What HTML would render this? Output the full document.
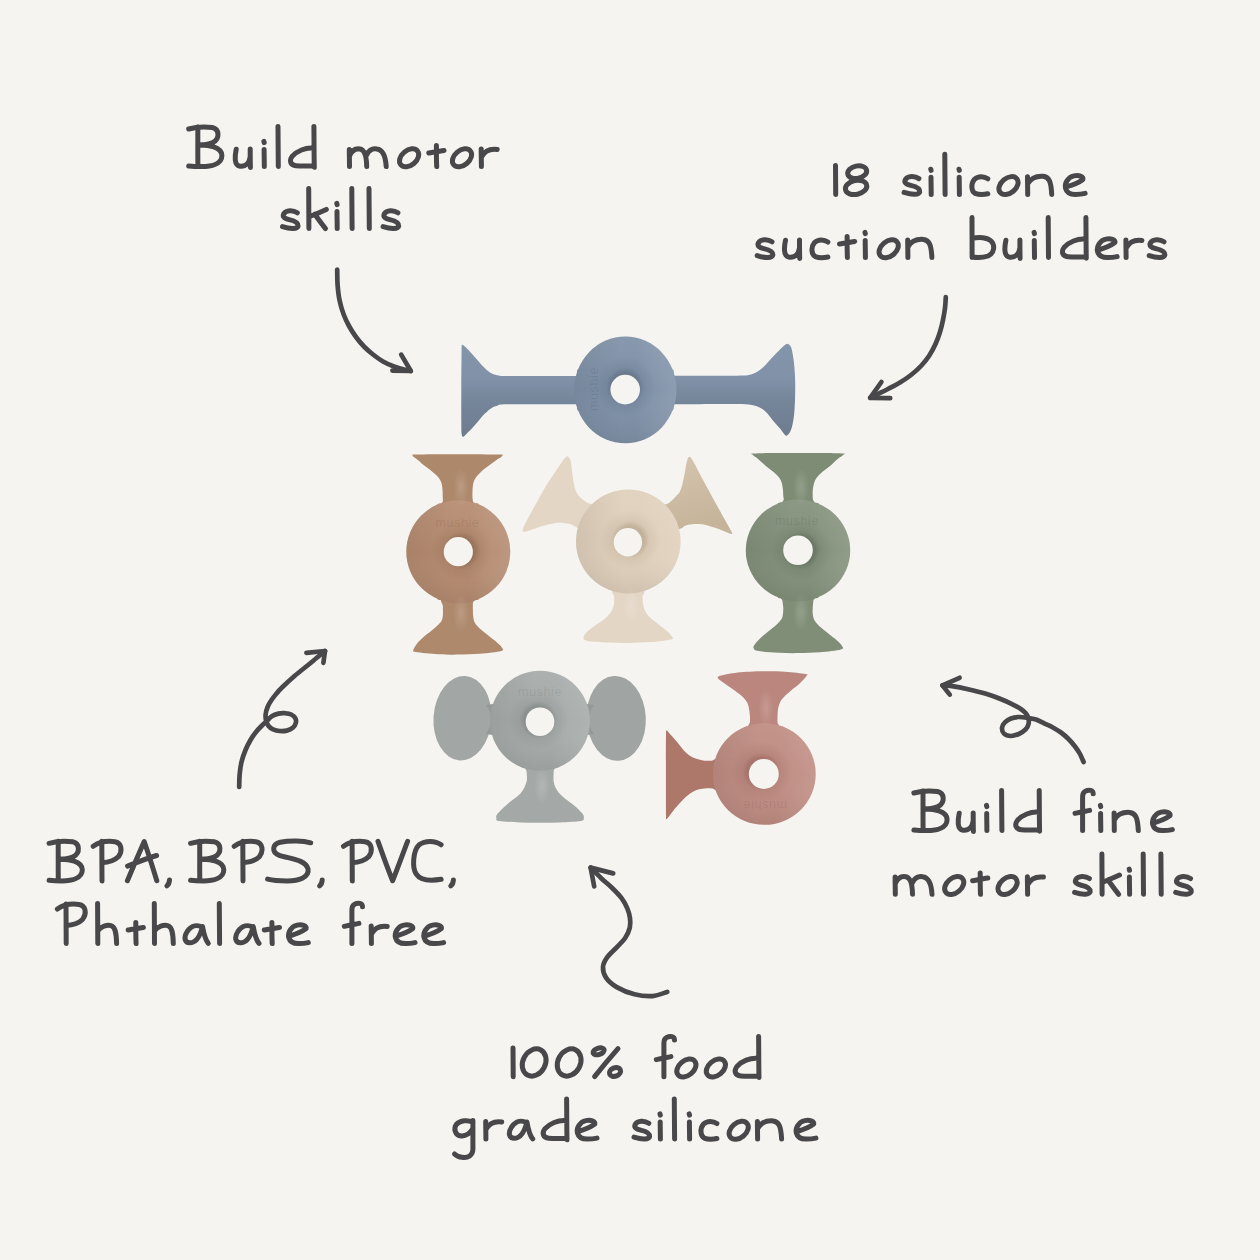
<!DOCTYPE html><html><head><meta charset="utf-8"><title>Suction builders</title><style>html,body{margin:0;padding:0;background:#f5f4f0;width:1260px;height:1260px;overflow:hidden}svg{display:block}body{font-family:"Liberation Sans",sans-serif}</style></head><body><svg width="1260" height="1260" viewBox="0 0 1260 1260"><rect width="1260" height="1260" fill="#f5f4f0"/><defs><radialGradient id="gb" cx="0.5" cy="0.5" r="0.5"><stop offset="0.45" stop-color="#3f4d60" stop-opacity="0.36"/><stop offset="0.62" stop-color="#3f4d60" stop-opacity="0.12"/><stop offset="1" stop-color="#3f4d60" stop-opacity="0"/></radialGradient><radialGradient id="gt" cx="0.5" cy="0.5" r="0.5"><stop offset="0.45" stop-color="#6a4a33" stop-opacity="0.36"/><stop offset="0.62" stop-color="#6a4a33" stop-opacity="0.12"/><stop offset="1" stop-color="#6a4a33" stop-opacity="0"/></radialGradient><radialGradient id="gc" cx="0.5" cy="0.5" r="0.5"><stop offset="0.45" stop-color="#8f7d62" stop-opacity="0.36"/><stop offset="0.62" stop-color="#8f7d62" stop-opacity="0.12"/><stop offset="1" stop-color="#8f7d62" stop-opacity="0"/></radialGradient><radialGradient id="gg" cx="0.5" cy="0.5" r="0.5"><stop offset="0.45" stop-color="#404d3c" stop-opacity="0.36"/><stop offset="0.62" stop-color="#404d3c" stop-opacity="0.12"/><stop offset="1" stop-color="#404d3c" stop-opacity="0"/></radialGradient><radialGradient id="gy" cx="0.5" cy="0.5" r="0.5"><stop offset="0.45" stop-color="#5d6362" stop-opacity="0.36"/><stop offset="0.62" stop-color="#5d6362" stop-opacity="0.12"/><stop offset="1" stop-color="#5d6362" stop-opacity="0"/></radialGradient><radialGradient id="gp" cx="0.5" cy="0.5" r="0.5"><stop offset="0.45" stop-color="#7d4b45" stop-opacity="0.36"/><stop offset="0.62" stop-color="#7d4b45" stop-opacity="0.12"/><stop offset="1" stop-color="#7d4b45" stop-opacity="0"/></radialGradient><linearGradient id="hshade" x1="0" y1="0" x2="1" y2="0"><stop offset="0" stop-color="#000000" stop-opacity="0.07"/><stop offset="0.45" stop-color="#000000" stop-opacity="0"/><stop offset="0.6" stop-color="#ffffff" stop-opacity="0"/><stop offset="1" stop-color="#ffffff" stop-opacity="0.10"/></linearGradient><linearGradient id="vshade" x1="0" y1="0" x2="0" y2="1"><stop offset="0" stop-color="#ffffff" stop-opacity="0.07"/><stop offset="0.5" stop-color="#ffffff" stop-opacity="0"/><stop offset="1" stop-color="#000000" stop-opacity="0.07"/></linearGradient><linearGradient id="lb" gradientUnits="userSpaceOnUse" x1="0" y1="343" x2="0" y2="437"><stop offset="0" stop-color="#8395ab"/><stop offset="0.38" stop-color="#8192a8"/><stop offset="0.6" stop-color="#76869b"/><stop offset="1" stop-color="#6d7b8e"/></linearGradient><linearGradient id="nt1" gradientUnits="userSpaceOnUse" x1="412" y1="0" x2="504" y2="0"><stop offset="0" stop-color="#ad886b"/><stop offset="0.36" stop-color="#ad886b"/><stop offset="0.55" stop-color="#bd997d"/><stop offset="0.72" stop-color="#ad886b"/><stop offset="1" stop-color="#ad886b"/></linearGradient><linearGradient id="nt2" gradientUnits="userSpaceOnUse" x1="412" y1="0" x2="504" y2="0"><stop offset="0" stop-color="#ae896c"/><stop offset="0.36" stop-color="#ae896c"/><stop offset="0.55" stop-color="#be9a7e"/><stop offset="0.72" stop-color="#ae896c"/><stop offset="1" stop-color="#ae896c"/></linearGradient><linearGradient id="ng1" gradientUnits="userSpaceOnUse" x1="752" y1="0" x2="844" y2="0"><stop offset="0" stop-color="#7e8c75"/><stop offset="0.36" stop-color="#7e8c75"/><stop offset="0.55" stop-color="#8d9d86"/><stop offset="0.72" stop-color="#7e8c75"/><stop offset="1" stop-color="#7e8c75"/></linearGradient><linearGradient id="ng2" gradientUnits="userSpaceOnUse" x1="752" y1="0" x2="844" y2="0"><stop offset="0" stop-color="#808e77"/><stop offset="0.36" stop-color="#808e77"/><stop offset="0.55" stop-color="#8fa088"/><stop offset="0.72" stop-color="#808e77"/><stop offset="1" stop-color="#808e77"/></linearGradient><linearGradient id="nc" gradientUnits="userSpaceOnUse" x1="583" y1="0" x2="673" y2="0"><stop offset="0" stop-color="#e2d5c4"/><stop offset="0.36" stop-color="#e2d5c4"/><stop offset="0.55" stop-color="#ece2d5"/><stop offset="0.72" stop-color="#e2d5c4"/><stop offset="1" stop-color="#e2d5c4"/></linearGradient><linearGradient id="ny" gradientUnits="userSpaceOnUse" x1="496" y1="0" x2="584" y2="0"><stop offset="0" stop-color="#a3a8a7"/><stop offset="0.36" stop-color="#a3a8a7"/><stop offset="0.55" stop-color="#b2b7b6"/><stop offset="0.72" stop-color="#a3a8a7"/><stop offset="1" stop-color="#a3a8a7"/></linearGradient><linearGradient id="np" gradientUnits="userSpaceOnUse" x1="717" y1="0" x2="808" y2="0"><stop offset="0" stop-color="#b9857c"/><stop offset="0.36" stop-color="#b9857c"/><stop offset="0.55" stop-color="#c6948b"/><stop offset="0.72" stop-color="#b9857c"/><stop offset="1" stop-color="#b9857c"/></linearGradient><linearGradient id="rarm" x1="0" y1="0" x2="0.3" y2="1"><stop offset="0" stop-color="#d6c5ae"/><stop offset="1" stop-color="#c5b39a"/></linearGradient><radialGradient id="hl" cx="0.5" cy="0.5" r="0.5"><stop offset="0" stop-color="#ffffff" stop-opacity="0.16"/><stop offset="1" stop-color="#ffffff" stop-opacity="0"/></radialGradient></defs><path d="M462.4,344.8 C463.4,345.0 465.5,347.0 467.5,349.0 C469.5,351.0 472.3,354.3 474.5,356.8 C476.7,359.3 478.6,361.6 480.6,363.8 C482.6,366.0 484.8,368.3 486.7,369.9 C488.6,371.5 489.9,372.5 491.9,373.4 C493.9,374.3 496.4,375.1 498.9,375.5 C501.4,375.9 496.8,375.9 507.0,376.0 C517.2,376.1 527.8,376.0 560.0,376.0 C592.2,376.0 671.7,375.9 700.0,375.8 C728.3,375.8 722.8,375.7 730.0,375.7 C737.2,375.7 739.5,375.8 743.1,375.6 C746.7,375.4 749.2,375.1 751.8,374.3 C754.4,373.5 756.6,372.2 758.8,370.8 C761.0,369.4 762.7,367.8 764.9,365.6 C767.1,363.4 769.6,360.2 771.9,357.7 C774.2,355.2 776.8,352.7 778.9,350.7 C781.0,348.7 782.8,346.7 784.3,345.6 C785.8,344.5 786.6,343.6 787.8,343.9 C788.9,344.2 790.2,344.7 791.2,347.6 C792.2,350.5 793.1,356.0 793.8,361.2 C794.4,366.4 794.9,372.9 795.1,378.7 C795.3,384.5 795.2,390.3 795.1,396.1 C795.0,401.9 794.7,408.5 794.2,413.6 C793.7,418.7 792.9,423.4 792.0,426.7 C791.1,430.0 790.1,432.1 789.0,433.6 C787.9,435.1 787.0,436.3 785.6,435.6 C784.2,434.9 782.7,431.7 780.7,429.3 C778.7,426.9 776.0,424.3 773.7,421.5 C771.4,418.7 769.0,415.0 766.7,412.7 C764.4,410.4 762.2,408.8 759.7,407.5 C757.2,406.2 755.3,405.5 751.8,404.9 C748.3,404.3 742.3,404.2 738.7,404.1 C735.1,404.0 736.5,404.1 730.0,404.1 C723.5,404.1 728.3,404.2 700.0,404.2 C671.7,404.2 592.2,404.3 560.0,404.3 C527.8,404.3 517.5,404.1 507.0,404.3 C496.5,404.5 499.9,405.0 497.2,405.7 C494.5,406.4 493.1,407.1 491.0,408.4 C488.9,409.7 487.1,411.4 484.9,413.6 C482.7,415.8 480.2,419.0 478.0,421.5 C475.8,424.0 473.7,426.5 471.8,428.5 C469.9,430.5 468.0,432.3 466.6,433.7 C465.2,435.1 464.0,436.8 463.2,436.8 C462.4,436.8 461.9,436.3 461.6,433.5 C461.3,430.7 461.4,427.2 461.3,420.0 C461.2,412.8 461.3,400.0 461.3,390.0 C461.3,380.0 461.4,367.0 461.5,360.0 C461.6,353.0 461.5,350.5 461.6,348.0 C461.8,345.5 461.4,344.6 462.4,344.8 Z" fill="url(#lb)"/><path d="M582.1,376.2 Q575.1,376.2 577.4,369.6 L625.3,389.9 Z" fill="#7c8da3"/><path d="M668.5,376.2 Q675.5,376.2 673.2,369.6 L625.3,389.9 Z" fill="#7c8da3"/><path d="M582.2,404.0 Q575.2,404.0 577.6,410.6 L625.3,389.9 Z" fill="#7c8da3"/><path d="M668.4,404.0 Q675.4,404.0 673.0,410.6 L625.3,389.9 Z" fill="#7c8da3"/><ellipse cx="625.3" cy="389.9" rx="51.2" ry="53.4" fill="#7f91a8"/><ellipse cx="625.3" cy="389.9" rx="51.2" ry="53.4" fill="url(#vshade)"/><ellipse cx="625.3" cy="389.9" rx="51.2" ry="53.4" fill="url(#hshade)"/><circle cx="625.2" cy="386.6" r="30.8" fill="url(#gb)"/><circle cx="625.2" cy="389.6" r="14.8" fill="#f5f4f0"/><path d="M443.2,506.0 C438.1,505.2 443.0,502.9 442.9,501.3 C442.8,499.7 442.8,498.2 442.7,496.3 C442.6,494.4 442.7,491.8 442.5,489.7 C442.3,487.6 442.1,485.5 441.7,483.8 C441.3,482.1 440.8,481.1 440.0,479.7 C439.2,478.3 438.4,477.2 436.7,475.5 C435.0,473.8 432.2,471.5 430.0,469.7 C427.8,467.9 425.4,466.4 423.3,464.7 C421.2,463.0 419.2,461.0 417.5,459.7 C415.8,458.4 414.0,457.4 413.2,456.6 C412.4,455.8 412.3,455.2 412.8,454.8 C413.3,454.4 408.5,454.5 416.0,454.4 C423.5,454.3 444.2,454.2 458.0,454.2 C471.8,454.2 491.6,454.4 499.0,454.5 C506.4,454.6 501.8,454.5 502.3,454.8 C502.8,455.1 502.7,455.6 501.8,456.4 C500.9,457.2 498.7,458.3 496.7,459.7 C494.7,461.1 492.2,463.0 490.0,464.7 C487.8,466.4 485.4,467.9 483.3,469.7 C481.2,471.5 479.0,473.7 477.5,475.5 C476.0,477.3 475.0,478.8 474.2,480.5 C473.4,482.2 473.2,483.7 472.9,485.5 C472.6,487.3 472.6,489.2 472.5,491.3 C472.4,493.4 472.4,496.3 472.5,498.0 C472.6,499.7 472.8,500.0 472.9,501.3 C473.0,502.6 478.1,505.2 473.2,506.0 C468.2,506.8 448.2,506.8 443.2,506.0 Z" fill="#ad886b"/><path d="M473.2,598.0 C478.1,598.8 472.9,600.9 472.9,603.0 C472.8,605.1 472.8,608.1 472.9,610.5 C473.0,612.9 472.9,615.1 473.3,617.2 C473.7,619.3 473.9,621.1 475.0,623.0 C476.1,624.9 477.8,626.7 480.0,628.8 C482.2,630.9 485.5,633.3 488.3,635.5 C491.1,637.7 494.4,640.2 496.7,642.2 C498.9,644.2 501.1,646.0 501.8,647.5 C502.6,649.0 504.8,650.0 501.2,651.0 C497.6,652.0 487.1,653.2 480.0,653.8 C472.9,654.4 465.2,654.5 458.3,654.6 C451.4,654.7 445.4,654.6 438.3,654.2 C431.2,653.8 419.9,652.8 415.8,652.0 C411.7,651.2 413.2,651.0 413.5,649.5 C413.8,648.0 415.9,645.0 417.5,643.0 C419.1,641.0 420.9,639.3 423.3,637.2 C425.7,635.1 429.2,632.6 431.7,630.5 C434.2,628.4 436.6,626.4 438.3,624.7 C440.0,623.0 440.9,622.2 441.7,620.5 C442.5,618.8 442.7,617.1 442.9,614.7 C443.1,612.3 442.8,609.1 442.9,606.3 C442.9,603.5 438.1,599.4 443.2,598.0 C448.2,596.6 468.2,597.2 473.2,598.0 Z" fill="#ae896c"/><path d="M442.9,508.0 Q442.9,502.0 437.3,504.1 L458.3,551.7 Z" fill="#ad886b"/><path d="M442.9,595.4 Q442.9,601.4 437.3,599.3 L458.3,551.7 Z" fill="#ae896c"/><path d="M473.0,507.8 Q473.0,501.8 478.6,503.8 L458.3,551.7 Z" fill="#ad886b"/><path d="M473.0,595.6 Q473.0,601.6 478.6,599.6 L458.3,551.7 Z" fill="#ae896c"/><ellipse cx="458.3" cy="551.7" rx="52" ry="51.5" fill="#b58b70"/><ellipse cx="458.3" cy="551.7" rx="52" ry="51.5" fill="url(#vshade)"/><ellipse cx="458.3" cy="551.7" rx="52" ry="51.5" fill="url(#hshade)"/><circle cx="461.3" cy="550.7" r="30.6" fill="url(#gt)"/><circle cx="458.3" cy="551.7" r="14.6" fill="#f5f4f0"/><path d="M567.9,456.4 C568.9,456.9 570.0,458.2 570.7,460.7 C571.4,463.2 571.6,467.8 572.1,471.4 C572.6,475.0 573.0,478.9 573.6,482.1 C574.2,485.3 574.8,488.3 575.7,490.7 C576.7,493.1 577.9,494.7 579.3,496.4 C580.7,498.1 582.6,499.5 584.3,500.7 C586.0,501.9 587.0,502.6 589.3,503.6 C591.6,504.7 596.2,504.3 598.0,507.0 C599.8,509.7 601.3,516.0 600.0,520.0 C598.7,524.0 593.6,529.6 590.0,531.0 C586.4,532.4 581.7,529.3 578.5,528.2 C575.3,527.1 573.2,525.2 570.7,524.3 C568.2,523.4 566.3,523.1 563.6,522.9 C560.9,522.7 557.6,522.7 554.3,523.2 C551.0,523.7 547.2,524.7 543.6,525.7 C540.0,526.7 535.9,528.3 532.9,529.3 C529.9,530.3 527.4,531.2 525.7,531.6 C524.0,532.0 523.1,532.4 522.8,531.6 C522.4,530.9 522.5,529.8 523.6,527.1 C524.7,524.5 527.2,519.7 529.3,515.7 C531.4,511.7 534.0,507.2 536.4,502.9 C538.8,498.6 541.2,494.1 543.6,490.0 C546.0,485.9 548.3,482.3 550.7,478.6 C553.1,474.9 555.5,471.3 557.9,467.9 C560.3,464.4 563.3,459.8 565.0,457.9 C566.7,456.0 566.9,455.9 567.9,456.4 Z" fill="#e4d6c5"/><path d="M689.6,456.8 C690.7,457.0 691.6,458.7 693.6,462.1 C695.6,465.5 698.8,472.2 701.4,477.1 C704.0,482.0 706.7,486.6 709.3,491.4 C711.9,496.2 714.5,500.9 717.1,505.7 C719.7,510.5 722.6,515.7 725.0,520.0 C727.4,524.3 730.3,529.3 731.4,531.6 C732.5,533.9 732.4,533.9 731.6,534.0 C730.8,534.1 728.5,533.1 726.4,532.3 C724.3,531.5 721.9,530.3 719.3,529.3 C716.7,528.3 713.7,527.2 710.7,526.4 C707.7,525.6 704.5,524.6 701.4,524.3 C698.3,523.9 694.8,524.1 692.1,524.3 C689.4,524.5 686.9,525.0 685.0,525.7 C683.1,526.4 683.5,527.9 680.7,528.6 C677.9,529.3 671.1,533.8 668.0,530.0 C664.9,526.2 662.3,510.3 662.0,506.0 C661.7,501.7 664.9,505.1 666.4,504.3 C667.9,503.5 669.2,502.7 670.7,501.4 C672.2,500.1 674.2,498.1 675.7,496.4 C677.2,494.7 678.8,493.8 680.0,491.4 C681.2,489.0 682.1,485.4 682.9,482.1 C683.7,478.8 684.3,475.0 685.0,471.4 C685.7,467.8 686.3,463.1 687.1,460.7 C687.9,458.3 688.5,456.6 689.6,456.8 Z" fill="url(#rarm)"/><path d="M614.2,590.0 C609.5,591.1 614.2,594.6 614.2,596.7 C614.2,598.8 614.4,600.6 614.2,602.5 C614.0,604.4 613.6,606.5 612.9,608.3 C612.2,610.1 611.5,611.5 610.0,613.3 C608.5,615.1 606.6,617.2 604.2,619.2 C601.8,621.2 598.4,623.1 595.8,625.0 C593.1,626.9 590.2,629.1 588.3,630.8 C586.4,632.5 585.0,634.1 584.2,635.4 C583.4,636.7 583.1,637.7 583.6,638.6 C584.1,639.5 583.4,640.2 587.5,640.9 C591.6,641.5 601.5,642.2 608.3,642.5 C615.1,642.8 621.3,643.0 628.3,642.9 C635.2,642.8 642.9,642.7 650.0,642.1 C657.1,641.5 667.1,640.3 670.8,639.4 C674.5,638.5 672.8,638.3 672.1,636.9 C671.4,635.5 669.0,632.9 666.7,630.8 C664.4,628.7 661.1,626.4 658.3,624.2 C655.5,622.0 652.2,619.7 650.0,617.5 C647.8,615.3 646.2,613.3 645.0,610.8 C643.8,608.3 643.3,604.9 642.9,602.5 C642.5,600.1 642.6,598.8 642.5,596.7 C642.4,594.6 647.2,591.1 642.5,590.0 C637.8,588.9 618.9,588.9 614.2,590.0 Z" fill="#e3d6c5"/><path d="M614.2,585.6 Q614.2,591.6 608.5,589.6 L628.3,541.5 Z" fill="#e3d6c5"/><path d="M642.5,585.5 Q642.5,591.5 648.2,589.6 L628.3,541.5 Z" fill="#e3d6c5"/><ellipse cx="628.3" cy="541.5" rx="52.3" ry="52" fill="#e0d0bc"/><ellipse cx="628.3" cy="541.5" rx="52.3" ry="52" fill="url(#vshade)"/><ellipse cx="628.3" cy="541.5" rx="52.3" ry="52" fill="url(#hshade)"/><circle cx="630.4" cy="539.7" r="30.2" fill="url(#gc)"/><circle cx="627.9" cy="542.2" r="14.2" fill="#f5f4f0"/><path d="M783.8,506.0 C778.9,504.9 783.9,501.0 783.8,499.3 C783.7,497.6 783.4,497.7 783.3,496.0 C783.1,494.3 783.2,491.5 782.9,489.3 C782.6,487.1 782.3,484.6 781.7,482.7 C781.1,480.8 780.6,479.5 779.2,477.7 C777.8,475.9 775.5,473.8 773.3,471.8 C771.1,469.9 768.4,468.2 765.8,466.0 C763.2,463.8 759.6,460.3 757.5,458.5 C755.4,456.7 753.5,455.9 753.0,455.0 C752.5,454.1 747.0,453.7 754.5,453.4 C762.0,453.1 783.5,453.1 798.0,453.1 C812.5,453.1 834.0,453.1 841.5,453.4 C849.0,453.7 843.5,454.1 843.0,455.0 C842.5,455.9 840.5,456.7 838.3,458.5 C836.1,460.3 832.6,463.8 830.0,466.0 C827.4,468.2 824.7,469.9 822.5,471.8 C820.3,473.8 818.1,475.9 816.7,477.7 C815.3,479.5 814.8,480.8 814.2,482.7 C813.6,484.6 813.1,487.1 812.9,489.3 C812.6,491.5 812.7,494.3 812.7,496.0 C812.7,497.7 812.9,497.6 812.9,499.3 C812.9,501.0 817.8,504.9 812.9,506.0 C808.0,507.1 788.6,507.1 783.8,506.0 Z" fill="#7e8c75"/><path d="M813.3,596.0 C818.4,596.8 813.4,598.9 813.3,601.0 C813.2,603.1 812.8,606.1 812.7,608.5 C812.6,610.9 812.5,613.1 812.9,615.2 C813.3,617.3 813.8,619.1 815.0,621.0 C816.2,622.9 817.8,624.7 820.0,626.8 C822.2,628.9 825.5,631.3 828.3,633.5 C831.1,635.7 834.4,638.1 836.7,640.2 C839.0,642.3 841.3,644.5 842.0,646.0 C842.7,647.5 844.5,648.5 840.8,649.5 C837.1,650.5 827.1,651.7 820.0,652.3 C812.9,652.9 805.2,653.0 798.3,653.1 C791.3,653.2 785.1,653.1 778.3,652.7 C771.5,652.3 761.6,651.6 757.5,650.8 C753.4,650.0 754.1,648.9 753.6,648.0 C753.1,647.1 753.4,646.5 754.2,645.2 C755.0,643.9 756.4,642.2 758.3,640.2 C760.2,638.2 763.1,635.7 765.8,633.5 C768.4,631.3 771.8,628.9 774.2,626.8 C776.6,624.7 778.6,622.7 780.0,621.0 C781.4,619.3 782.0,618.9 782.5,616.8 C783.0,614.7 783.3,611.1 783.3,608.5 C783.3,605.9 782.6,603.1 782.5,601.0 C782.4,598.9 777.4,596.8 782.5,596.0 C787.6,595.2 808.2,595.2 813.3,596.0 Z" fill="#808e77"/><path d="M783.5,507.0 Q783.5,501.0 777.9,503.0 L798.0,550.4 Z" fill="#7e8c75"/><path d="M783.5,593.8 Q783.5,599.8 777.9,597.8 L798.0,550.4 Z" fill="#808e77"/><path d="M813.0,507.1 Q813.0,501.1 818.6,503.2 L798.0,550.4 Z" fill="#7e8c75"/><path d="M813.0,593.7 Q813.0,599.7 818.6,597.6 L798.0,550.4 Z" fill="#808e77"/><ellipse cx="798" cy="550.4" rx="52.2" ry="50.8" fill="#83917b"/><ellipse cx="798" cy="550.4" rx="52.2" ry="50.8" fill="url(#vshade)"/><ellipse cx="798" cy="550.4" rx="52.2" ry="50.8" fill="url(#hshade)"/><circle cx="801.0" cy="550.2" r="30.8" fill="url(#gg)"/><circle cx="798" cy="550.2" r="14.8" fill="#f5f4f0"/><ellipse cx="462.5" cy="718.2" rx="29" ry="42.3" transform="rotate(4 462.5 718.2)" fill="#a2a7a6"/><ellipse cx="616.2" cy="718.4" rx="29.6" ry="42.5" transform="rotate(-3 616.2 718.4)" fill="#a0a5a4"/><path d="M486,705 Q496,719 486,734 L500,736 L500,703 Z" fill="#959a99"/><path d="M594,705 Q584,719 594,734 L580,736 L580,703 Z" fill="#959a99"/><path d="M526.6,765.0 C522.1,766.2 526.6,769.2 526.6,772.0 C526.6,774.8 527.6,777.9 526.6,781.5 C525.6,785.1 523.8,789.8 520.5,793.6 C517.2,797.4 510.8,801.0 507.0,804.4 C503.2,807.8 499.3,811.5 497.5,813.8 C495.7,816.1 496.1,816.8 496.4,818.0 C496.6,819.2 495.1,820.3 499.0,821.0 C502.9,821.7 513.2,822.1 520.0,822.4 C526.8,822.7 533.3,822.7 540.0,822.7 C546.7,822.7 553.2,822.7 560.0,822.4 C566.8,822.1 577.0,821.7 581.0,821.0 C585.0,820.3 583.5,819.2 583.8,818.0 C584.1,816.8 584.1,815.8 582.6,813.8 C581.1,811.8 578.1,808.8 574.5,805.7 C570.9,802.6 564.4,798.6 561.0,795.0 C557.6,791.4 555.4,788.0 554.2,784.2 C553.0,780.4 553.7,775.2 553.6,772.0 C553.5,768.8 558.1,766.2 553.6,765.0 C549.1,763.8 531.1,763.8 526.6,765.0 Z" fill="#a4a9a8"/><path d="M526.6,763.0 Q526.6,769.0 520.9,767.0 L540.0,720.8 Z" fill="#a4a9a8"/><path d="M553.8,762.9 Q553.8,768.9 559.5,766.9 L540.0,720.8 Z" fill="#a4a9a8"/><ellipse cx="540" cy="720.8" rx="50" ry="50" fill="#a6abaa"/><ellipse cx="540" cy="720.8" rx="50" ry="50" fill="url(#vshade)"/><ellipse cx="540" cy="720.8" rx="50" ry="50" fill="url(#hshade)"/><circle cx="538.0" cy="719.7" r="30.3" fill="url(#gy)"/><circle cx="540" cy="721.7" r="14.3" fill="#f5f4f0"/><path d="M750.2,728.0 C745.6,727.0 750.0,723.6 750.0,721.7 C750.0,719.8 750.1,718.7 750.0,716.7 C749.9,714.8 749.6,712.2 749.2,710.0 C748.8,707.8 748.5,705.4 747.5,703.3 C746.5,701.2 745.4,699.6 743.3,697.5 C741.2,695.4 737.8,692.9 735.0,690.8 C732.2,688.7 729.3,686.9 726.7,685.0 C724.1,683.1 720.7,680.9 719.2,679.6 C717.7,678.3 717.5,677.9 717.8,677.2 C718.1,676.5 718.1,676.1 721.0,675.4 C723.9,674.7 728.5,673.6 735.0,672.9 C741.5,672.2 751.7,671.5 760.0,671.3 C768.3,671.1 777.4,671.2 785.0,671.7 C792.6,672.2 801.9,673.3 805.5,674.0 C809.1,674.7 807.5,674.2 806.6,675.8 C805.7,677.3 802.5,680.9 800.0,683.3 C797.5,685.7 794.3,687.8 791.7,690.0 C789.1,692.2 786.2,694.6 784.2,696.7 C782.2,698.8 781.0,700.3 780.0,702.5 C779.0,704.7 778.3,707.6 777.9,710.0 C777.5,712.4 777.6,714.6 777.5,716.7 C777.4,718.8 777.5,720.6 777.5,722.5 C777.5,724.4 782.0,727.1 777.5,728.0 C773.0,728.9 754.8,729.0 750.2,728.0 Z" fill="#ba867d"/><path d="M666.8,730.4 C667.6,730.4 669.3,733.3 671.1,735.3 C672.9,737.3 675.4,740.0 677.5,742.5 C679.6,745.0 681.7,748.1 683.8,750.4 C685.9,752.6 688.0,754.5 690.2,756.0 C692.5,757.5 694.9,758.3 697.3,759.1 C699.7,759.9 702.0,760.4 704.4,760.7 C706.8,761.0 709.0,760.8 711.6,760.7 C714.2,760.6 718.6,755.1 720.0,760.0 C721.4,764.9 721.3,785.2 720.0,790.0 C718.7,794.8 715.0,788.8 712.4,788.5 C709.8,788.2 707.0,788.2 704.4,788.5 C701.8,788.8 699.0,789.2 696.5,790.1 C694.0,791.0 691.8,792.3 689.4,794.0 C687.0,795.7 684.5,798.1 682.2,800.4 C680.0,802.6 677.9,805.1 675.9,807.5 C673.9,809.9 671.8,812.8 670.3,814.7 C668.8,816.6 667.3,818.8 666.6,819.0 C665.9,819.2 666.1,820.8 666.0,816.0 C665.9,811.2 665.9,799.3 665.9,790.0 C665.9,780.7 665.9,769.2 665.9,760.0 C665.9,750.8 665.9,739.9 666.0,735.0 C666.1,730.1 665.9,730.4 666.8,730.4 Z" fill="#ad786a"/><path d="M750.0,731.0 Q750.0,725.0 744.4,727.1 L764.3,774.0 Z" fill="#ba867d"/><path d="M777.5,730.7 Q777.5,724.7 783.2,726.6 L764.3,774.0 Z" fill="#ba867d"/><path d="M721.1,760.6 Q715.1,760.6 717.0,754.9 L764.3,774.0 Z" fill="#ad786a"/><path d="M721.4,788.5 Q715.4,788.5 717.4,794.1 L764.3,774.0 Z" fill="#ad786a"/><ellipse cx="764.3" cy="774" rx="51.4" ry="50.8" fill="#bf8c82"/><ellipse cx="764.3" cy="774" rx="51.4" ry="50.8" fill="url(#vshade)"/><ellipse cx="764.3" cy="774" rx="51.4" ry="50.8" fill="url(#hshade)"/><circle cx="761.3" cy="771.5" r="31.0" fill="url(#gp)"/><circle cx="763.8" cy="774" r="15" fill="#f5f4f0"/><text x="457.5" y="527" text-anchor="middle" font-family="Liberation Sans, sans-serif" font-size="12.5" letter-spacing="0.6" fill="#6a4a33" fill-opacity="0.17">mushie</text><text x="797" y="525" text-anchor="middle" font-family="Liberation Sans, sans-serif" font-size="12.5" letter-spacing="0.6" fill="#404d3c" fill-opacity="0.17">mushie</text><text x="540" y="696" text-anchor="middle" font-family="Liberation Sans, sans-serif" font-size="12.5" letter-spacing="0.6" fill="#5d6362" fill-opacity="0.17">mushie</text><text x="765" y="801" text-anchor="middle" font-family="Liberation Sans, sans-serif" font-size="12.5" letter-spacing="0.6" fill="#7d4b45" fill-opacity="0.17" transform="rotate(180 765 801)">mushie</text><text x="598" y="389" text-anchor="middle" font-family="Liberation Sans, sans-serif" font-size="12.5" letter-spacing="0.6" fill="#3f4d60" fill-opacity="0.17" transform="rotate(-90 598 389)">mushie</text><ellipse cx="461" cy="487" rx="8" ry="19" fill="url(#hl)"/><ellipse cx="461" cy="613" rx="8" ry="19" fill="url(#hl)"/><ellipse cx="801" cy="487" rx="8" ry="19" fill="url(#hl)"/><ellipse cx="801" cy="612" rx="8" ry="19" fill="url(#hl)"/><ellipse cx="631" cy="606" rx="8" ry="19" fill="url(#hl)"/><ellipse cx="542" cy="786" rx="8" ry="19" fill="url(#hl)"/><ellipse cx="766" cy="708" rx="8" ry="19" fill="url(#hl)"/><g fill="none" stroke="#48484a" stroke-width="4.7" stroke-linecap="round" stroke-linejoin="round"><path d="M337.2,269.5 C337.3,272.1 337.2,279.9 337.6,285.0 C338.0,290.1 338.5,295.2 339.5,300.0 C340.5,304.8 341.9,309.7 343.5,314.0 C345.1,318.3 346.9,322.2 349.0,326.0 C351.1,329.8 353.5,333.6 356.0,337.0 C358.5,340.4 361.2,343.6 364.0,346.5 C366.8,349.4 369.8,352.0 373.0,354.5 C376.2,357.0 379.5,359.5 383.0,361.5 C386.5,363.5 390.5,365.2 394.0,366.5 C397.5,367.8 401.2,368.8 404.0,369.5 C406.8,370.2 409.7,370.8 410.8,371.0"/><path d="M401.2,354.6 L410.8,371 L392.4,370.6"/><path d="M945.8,297.0 C945.7,298.8 945.5,304.2 945.0,308.0 C944.5,311.8 943.8,316.0 943.0,320.0 C942.2,324.0 941.2,328.0 940.0,332.0 C938.8,336.0 937.3,340.0 935.5,344.0 C933.7,348.0 931.4,352.3 929.0,356.0 C926.6,359.7 924.0,362.8 921.0,366.0 C918.0,369.2 914.5,372.2 911.0,375.0 C907.5,377.8 903.8,380.2 900.0,382.5 C896.2,384.8 891.8,387.0 888.0,389.0 C884.2,391.0 880.0,393.0 877.0,394.5 C874.0,396.0 871.3,397.2 870.2,397.8"/><path d="M881.4,382.0 L870.2,397.8 L890.2,398.2"/><path d="M239.2,787.0 C239.3,785.0 239.2,779.2 239.6,775.0 C240.0,770.8 240.5,766.2 241.5,762.0 C242.5,757.8 244.0,753.7 245.5,750.0 C247.0,746.3 248.8,743.0 250.5,740.0 C252.2,737.0 254.1,734.4 256.0,732.0 C257.9,729.6 260.2,727.3 262.0,725.5 C263.8,723.7 264.9,722.8 266.5,721.3 C268.1,719.8 269.8,717.5 271.8,716.2 C273.8,714.9 276.2,714.1 278.4,713.6 C280.6,713.1 282.8,713.1 284.9,713.2 C287.0,713.4 289.4,713.6 291.2,714.5 C292.9,715.4 294.6,716.9 295.4,718.3 C296.2,719.7 296.2,721.4 295.8,723.0 C295.4,724.6 294.3,726.5 292.8,727.8 C291.3,729.1 289.0,730.1 286.8,730.6 C284.6,731.1 282.0,731.2 279.7,731.0 C277.4,730.8 274.9,730.1 273.0,729.3 C271.1,728.5 269.7,727.4 268.6,726.0 C267.5,724.6 266.7,723.1 266.2,721.2 C265.7,719.3 265.4,717.0 265.6,714.6 C265.8,712.2 266.6,709.4 267.6,707.0 C268.6,704.6 270.0,702.2 271.5,700.0 C273.0,697.8 274.8,695.6 276.5,693.5 C278.2,691.4 279.0,690.4 282.0,687.5 C285.0,684.6 290.2,679.7 294.5,676.0 C298.8,672.3 303.8,668.5 307.5,665.5 C311.2,662.5 313.6,660.4 316.5,658.0 C319.4,655.6 323.6,652.2 325.0,651.0"/><path d="M306.4,652.8 L325,651 L323.4,662.8"/><path d="M1083.6,762.0 C1083.0,760.7 1081.4,756.6 1080.0,754.0 C1078.6,751.4 1076.9,749.0 1075.0,746.5 C1073.1,744.0 1070.8,741.3 1068.5,739.0 C1066.2,736.7 1063.7,734.5 1061.0,732.5 C1058.3,730.5 1055.2,728.8 1052.5,727.3 C1049.8,725.8 1047.3,724.9 1044.6,723.6 C1041.8,722.3 1038.7,720.5 1036.0,719.6 C1033.3,718.7 1031.4,718.4 1028.5,718.0 C1025.6,717.6 1021.7,716.9 1018.8,717.0 C1015.9,717.1 1013.2,717.6 1010.9,718.5 C1008.6,719.4 1006.4,720.8 1004.9,722.3 C1003.4,723.8 1002.1,725.9 1002.0,727.8 C1001.9,729.7 1002.5,732.2 1004.0,733.6 C1005.5,735.0 1008.4,735.9 1010.9,736.0 C1013.4,736.1 1016.3,735.1 1018.8,734.0 C1021.2,732.9 1024.0,731.1 1025.6,729.4 C1027.2,727.7 1028.2,725.8 1028.6,723.8 C1029.0,721.8 1028.7,719.3 1028.2,717.5 C1027.7,715.7 1027.0,714.6 1025.8,713.2 C1024.6,711.8 1023.2,710.6 1020.8,709.0 C1018.4,707.4 1015.0,705.5 1011.5,703.8 C1008.0,702.1 1004.2,700.5 1000.0,698.8 C995.8,697.1 991.3,695.4 986.0,693.8 C980.7,692.2 973.7,690.5 968.0,689.2 C962.3,687.9 956.3,686.8 952.0,686.2 C947.7,685.6 944.0,685.5 942.4,685.4"/><path d="M959.6,677.8 L942.4,685.4 L949.8,694.6"/><path d="M667.3,991.9 C664.8,992.6 657.9,995.7 652.4,996.1 C646.9,996.5 640.5,995.8 634.5,994.3 C628.5,992.8 621.5,989.9 616.7,987.1 C612.0,984.3 608.3,981.0 606.0,977.6 C603.7,974.2 602.8,970.3 603.0,966.9 C603.2,963.5 604.8,960.7 607.1,957.4 C609.4,954.1 613.7,950.5 616.7,947.3 C619.7,944.1 622.8,941.6 625.0,938.3 C627.2,935.0 629.0,931.0 629.8,927.6 C630.6,924.2 630.4,921.3 630.0,918.1 C629.6,914.9 628.8,912.0 627.4,908.6 C626.0,905.2 624.0,901.4 621.4,897.9 C618.8,894.4 615.3,891.0 611.9,887.7 C608.5,884.4 604.8,881.6 601.2,878.2 C597.7,874.9 592.4,869.4 590.6,867.6"/><path d="M613.2,873.4 L590.6,867.6 L594.2,886.4"/></g><g fill="none" stroke="#48484a" stroke-width="5.0" stroke-linecap="round" stroke-linejoin="round"><path transform="translate(186.3,169.0)" d="M11.5,-42 C11.6,-30 11.4,-15 11.6,-3.4 M2.4,-40 C8,-41.6 18,-42.6 26,-41.5 C33,-40 34,-30.5 26.5,-26.5 C21,-24 15,-23.8 11.6,-23.8 M11.6,-24 C22,-24.6 35.6,-22 35.6,-13.5 C35.6,-5 25,-2.4 15,-2.4 C10,-2.4 6,-2.6 2.4,-3"/><path transform="translate(232.2,169.0)" d="M4,-19.8 C2.6,-13 1.6,-3.6 8,-2.8 C13.5,-2.2 17.2,-6.5 18,-12.5 M18,-20 C18,-14 18,-8 18.2,-1.6"/><path transform="translate(261.4,169.0)" d="M2.7,-19.6 C2.7,-14 2.9,-8 2.9,-2.4 M2.5,-27.6 L2.8,-26.4"/><path transform="translate(275.4,169.0)" d="M2.6,-42.6 C2.6,-30 2.9,-14 2.9,-2.4"/><path transform="translate(287.5,169.0)" d="M26.4,-42.6 C26.6,-28 26.5,-12 26.8,-1.8 M26.4,-20.8 C18,-21.8 9,-17.8 4.6,-12.6 C1.4,-8.2 3,-3.8 8.5,-3.3 C14,-2.8 21,-3 26.6,-3.2"/><path transform="translate(346.9,169.0)" d="M2.4,-19.6 C2.4,-14 2.6,-8 2.6,-2.4 M2.6,-13 C5,-19 9,-20.6 13,-20 C17,-19.4 19.6,-15 19.8,-2.4 M19.8,-14 C22,-19 26,-20.6 30,-20 C35,-19.4 38.6,-14 39.3,-2.4"/><path transform="translate(397.1,169.0)" d="M3.73,-4.26 A10.8,7.2 -40 1 0 20.27,-18.14 A10.8,7.2 -40 1 0 3.73,-4.26 Z"/><path transform="translate(426.4,169.0)" d="M10,-23.6 C10,-15 10,-8 10.3,-2.4 M2.4,-16 C8,-17 13,-18 17.6,-18.6"/><path transform="translate(450.0,169.0)" d="M3.73,-4.26 A10.8,7.2 -40 1 0 20.27,-18.14 A10.8,7.2 -40 1 0 3.73,-4.26 Z"/><path transform="translate(478.6,169.0)" d="M2.6,-20 C2.6,-14 2.8,-8 2.8,-2.4 M2.8,-12 C6,-18 11,-20.6 18.6,-19.6"/><path transform="translate(280.1,231.0)" d="M17.2,-18.2 C13,-21.2 6,-21 3.6,-17.2 C2,-14 5,-12.4 9,-11.4 C15,-10 18.4,-8 18,-5 C17.2,-2 11,-1.6 2.4,-4.4"/><path transform="translate(305.7,231.0)" d="M3,-42.6 C3,-30 3.2,-14 3.2,-2.4 M20.6,-21.6 C15,-19 9,-16.5 4,-14.5 M9,-16.8 C12.5,-12 16,-7 19.8,-2.4"/><path transform="translate(334.3,231.0)" d="M2.7,-19.6 C2.7,-14 2.9,-8 2.9,-2.4 M2.5,-27.6 L2.8,-26.4"/><path transform="translate(349.2,231.0)" d="M2.6,-42.6 C2.6,-30 2.9,-14 2.9,-2.4"/><path transform="translate(366.4,231.0)" d="M2.6,-42.6 C2.6,-30 2.9,-14 2.9,-2.4"/><path transform="translate(380.7,231.0)" d="M17.2,-18.2 C13,-21.2 6,-21 3.6,-17.2 C2,-14 5,-12.4 9,-11.4 C15,-10 18.4,-8 18,-5 C17.2,-2 11,-1.6 2.4,-4.4"/><path transform="translate(833.1,196.8)" d="M2.4,-31.2 C2.4,-22 2.6,-12 2.6,-2.4"/><path transform="translate(842.8,196.8)" d="M5.01,-22.60 A9.6,6.2 -12 1 0 23.79,-26.60 A9.6,6.2 -12 1 0 5.01,-22.60 Z M2.74,-7.15 A10.8,6.8 -12 1 0 23.86,-11.65 A10.8,6.8 -12 1 0 2.74,-7.15 Z"/><path transform="translate(901.7,196.8)" d="M17.2,-18.2 C13,-21.2 6,-21 3.6,-17.2 C2,-14 5,-12.4 9,-11.4 C15,-10 18.4,-8 18,-5 C17.2,-2 11,-1.6 2.4,-4.4"/><path transform="translate(928.3,196.8)" d="M2.7,-19.6 C2.7,-14 2.9,-8 2.9,-2.4 M2.5,-27.6 L2.8,-26.4"/><path transform="translate(942.2,196.8)" d="M2.6,-42.6 C2.6,-30 2.9,-14 2.9,-2.4"/><path transform="translate(956.5,196.8)" d="M2.7,-19.6 C2.7,-14 2.9,-8 2.9,-2.4 M2.5,-27.6 L2.8,-26.4"/><path transform="translate(969.2,196.8)" d="M18.6,-18 C15,-20.6 9,-21.2 5,-17.2 C1.5,-13 2,-5.4 6,-3.4 C10,-1.8 15,-2.2 18.6,-3"/><path transform="translate(996.5,196.8)" d="M3.73,-4.26 A10.8,7.2 -40 1 0 20.27,-18.14 A10.8,7.2 -40 1 0 3.73,-4.26 Z"/><path transform="translate(1025.1,196.8)" d="M2.4,-20 C2.4,-14 2.6,-8 2.6,-2.4 M2.6,-13 C6,-19 12,-21 18,-20.6 C24,-20 26,-15 26.6,-2.4"/><path transform="translate(1062.5,196.8)" d="M3.8,-10 C9,-11.5 16,-14 20.4,-17.4 C21,-20.6 16,-21.8 11.5,-20.9 C5,-19.6 2,-13 3,-8.6 C4.2,-3.6 9,-2.4 13,-2.4 C17,-2.4 20,-2.8 22.6,-3.4"/><path transform="translate(754.8,260.0)" d="M17.2,-18.2 C13,-21.2 6,-21 3.6,-17.2 C2,-14 5,-12.4 9,-11.4 C15,-10 18.4,-8 18,-5 C17.2,-2 11,-1.6 2.4,-4.4"/><path transform="translate(781.5,260.0)" d="M4,-19.8 C2.6,-13 1.6,-3.6 8,-2.8 C13.5,-2.2 17.2,-6.5 18,-12.5 M18,-20 C18,-14 18,-8 18.2,-1.6"/><path transform="translate(809.3,260.0)" d="M18.6,-18 C15,-20.6 9,-21.2 5,-17.2 C1.5,-13 2,-5.4 6,-3.4 C10,-1.8 15,-2.2 18.6,-3"/><path transform="translate(837.1,260.0)" d="M10,-23.6 C10,-15 10,-8 10.3,-2.4 M2.4,-16 C8,-17 13,-18 17.6,-18.6"/><path transform="translate(862.5,260.0)" d="M2.7,-19.6 C2.7,-14 2.9,-8 2.9,-2.4 M2.5,-27.6 L2.8,-26.4"/><path transform="translate(876.7,260.0)" d="M3.73,-4.26 A10.8,7.2 -40 1 0 20.27,-18.14 A10.8,7.2 -40 1 0 3.73,-4.26 Z"/><path transform="translate(905.3,260.0)" d="M2.4,-20 C2.4,-14 2.6,-8 2.6,-2.4 M2.6,-13 C6,-19 12,-21 18,-20.6 C24,-20 26,-15 26.6,-2.4"/><path transform="translate(969.1,260.0)" d="M2.9,-42.6 C2.9,-30 3,-14 3,-2.4 M3,-21.5 C10,-23.2 18,-22.6 22,-19 C26,-15 25.5,-7 19,-4 C13,-2 7,-2.4 3,-3"/><path transform="translate(1001.9,260.0)" d="M4,-19.8 C2.6,-13 1.6,-3.6 8,-2.8 C13.5,-2.2 17.2,-6.5 18,-12.5 M18,-20 C18,-14 18,-8 18.2,-1.6"/><path transform="translate(1031.6,260.0)" d="M2.7,-19.6 C2.7,-14 2.9,-8 2.9,-2.4 M2.5,-27.6 L2.8,-26.4"/><path transform="translate(1045.6,260.0)" d="M2.6,-42.6 C2.6,-30 2.9,-14 2.9,-2.4"/><path transform="translate(1059.5,260.0)" d="M26.4,-42.6 C26.6,-28 26.5,-12 26.8,-1.8 M26.4,-20.8 C18,-21.8 9,-17.8 4.6,-12.6 C1.4,-8.2 3,-3.8 8.5,-3.3 C14,-2.8 21,-3 26.6,-3.2"/><path transform="translate(1094.5,260.0)" d="M3.8,-10 C9,-11.5 16,-14 20.4,-17.4 C21,-20.6 16,-21.8 11.5,-20.9 C5,-19.6 2,-13 3,-8.6 C4.2,-3.6 9,-2.4 13,-2.4 C17,-2.4 20,-2.8 22.6,-3.4"/><path transform="translate(1123.3,260.0)" d="M2.6,-20 C2.6,-14 2.8,-8 2.8,-2.4 M2.8,-12 C6,-18 11,-20.6 18.6,-19.6"/><path transform="translate(1146.8,260.0)" d="M17.2,-18.2 C13,-21.2 6,-21 3.6,-17.2 C2,-14 5,-12.4 9,-11.4 C15,-10 18.4,-8 18,-5 C17.2,-2 11,-1.6 2.4,-4.4"/><path transform="translate(46.7,883.3)" d="M11.5,-42 C11.6,-30 11.4,-15 11.6,-3.4 M2.4,-40 C8,-41.6 18,-42.6 26,-41.5 C33,-40 34,-30.5 26.5,-26.5 C21,-24 15,-23.8 11.6,-23.8 M11.6,-24 C22,-24.6 35.6,-22 35.6,-13.5 C35.6,-5 25,-2.4 15,-2.4 C10,-2.4 6,-2.6 2.4,-3"/><path transform="translate(90.8,883.3)" d="M11,-42 C11,-28 11.2,-14 11.2,-2.4 M2.4,-37 C8,-41 16,-42.6 24,-41.6 C31,-40.6 32,-32 27.5,-26.5 C23,-22 16,-20.8 11,-20.6"/><path transform="translate(125.0,883.3)" d="M2.4,-2.6 C8,-16 14,-30 19.2,-41.8 C24,-28 28,-15 31.8,-2.6 M2.6,-17.2 C12,-21 22,-25 31.6,-27.8"/><path transform="translate(164.2,883.3)" d="M5.3,-3.4 C5.2,-0.5 4.4,1.2 2.7,2.6"/><path transform="translate(188.2,883.3)" d="M11.5,-42 C11.6,-30 11.4,-15 11.6,-3.4 M2.4,-40 C8,-41.6 18,-42.6 26,-41.5 C33,-40 34,-30.5 26.5,-26.5 C21,-24 15,-23.8 11.6,-23.8 M11.6,-24 C22,-24.6 35.6,-22 35.6,-13.5 C35.6,-5 25,-2.4 15,-2.4 C10,-2.4 6,-2.6 2.4,-3"/><path transform="translate(231.8,883.3)" d="M11,-42 C11,-28 11.2,-14 11.2,-2.4 M2.4,-37 C8,-41 16,-42.6 24,-41.6 C31,-40.6 32,-32 27.5,-26.5 C23,-22 16,-20.8 11,-20.6"/><path transform="translate(265.2,883.3)" d="M45.5,-40.5 C38,-42.6 25,-43 15,-41 C7,-39.2 6,-31 14,-28 C24,-24.5 40,-24 42.8,-14.5 C44.5,-5.5 33,-2.5 22,-2.4 C14,-2.4 7,-3 2.4,-4.2"/><path transform="translate(316.9,883.3)" d="M5.3,-3.4 C5.2,-0.5 4.4,1.2 2.7,2.6"/><path transform="translate(341.1,883.3)" d="M11,-42 C11,-28 11.2,-14 11.2,-2.4 M2.4,-37 C8,-41 16,-42.6 24,-41.6 C31,-40.6 32,-32 27.5,-26.5 C23,-22 16,-20.8 11,-20.6"/><path transform="translate(375.6,883.3)" d="M2.4,-42 C7,-29 12,-15 17,-2.6 C22,-15 27,-29 32,-42"/><path transform="translate(410.1,883.3)" d="M31,-38.5 C25,-43 15,-43 9,-38.5 C3,-33 1.8,-16 6,-9.5 C10,-3.4 20,-2.2 31,-4"/><path transform="translate(448.1,883.3)" d="M5.3,-3.4 C5.2,-0.5 4.4,1.2 2.7,2.6"/><path transform="translate(55.0,946.0)" d="M11,-42 C11,-28 11.2,-14 11.2,-2.4 M2.4,-37 C8,-41 16,-42.6 24,-41.6 C31,-40.6 32,-32 27.5,-26.5 C23,-22 16,-20.8 11,-20.6"/><path transform="translate(95.0,946.0)" d="M2.6,-42.6 C2.6,-30 2.8,-14 2.8,-2.4 M2.8,-15 C6,-20 12,-21.2 16,-20.4 C20.5,-19.2 21.4,-12 21.6,-2.4"/><path transform="translate(125.8,946.0)" d="M10,-23.6 C10,-15 10,-8 10.3,-2.4 M2.4,-16 C8,-17 13,-18 17.6,-18.6"/><path transform="translate(151.7,946.0)" d="M2.6,-42.6 C2.6,-30 2.8,-14 2.8,-2.4 M2.8,-15 C6,-20 12,-21.2 16,-20.4 C20.5,-19.2 21.4,-12 21.6,-2.4"/><path transform="translate(181.7,946.0)" d="M20.5,-18.5 C16,-21.5 10,-20.8 5.5,-14.5 C1.6,-8.5 3,-3.2 8,-3.2 C13,-3.2 18,-8 20.8,-19.5 C22,-13 24,-5.5 26.6,-2.6"/><path transform="translate(216.7,946.0)" d="M2.6,-42.6 C2.6,-30 2.9,-14 2.9,-2.4"/><path transform="translate(232.4,946.0)" d="M20.5,-18.5 C16,-21.5 10,-20.8 5.5,-14.5 C1.6,-8.5 3,-3.2 8,-3.2 C13,-3.2 18,-8 20.8,-19.5 C22,-13 24,-5.5 26.6,-2.6"/><path transform="translate(261.9,946.0)" d="M10,-23.6 C10,-15 10,-8 10.3,-2.4 M2.4,-16 C8,-17 13,-18 17.6,-18.6"/><path transform="translate(285.7,946.0)" d="M3.8,-10 C9,-11.5 16,-14 20.4,-17.4 C21,-20.6 16,-21.8 11.5,-20.9 C5,-19.6 2,-13 3,-8.6 C4.2,-3.6 9,-2.4 13,-2.4 C17,-2.4 20,-2.8 22.6,-3.4"/><path transform="translate(341.9,946.0)" d="M10,-2.4 C10,-14 10,-26 10,-36.5 C10,-42 15,-43.2 18,-42.6 C19.6,-42.2 20.6,-41 20.6,-39.2 M2.4,-19.6 C8,-20.6 12,-21.6 17,-22.6"/><path transform="translate(368.6,946.0)" d="M2.6,-20 C2.6,-14 2.8,-8 2.8,-2.4 M2.8,-12 C6,-18 11,-20.6 18.6,-19.6"/><path transform="translate(392.4,946.0)" d="M3.8,-10 C9,-11.5 16,-14 20.4,-17.4 C21,-20.6 16,-21.8 11.5,-20.9 C5,-19.6 2,-13 3,-8.6 C4.2,-3.6 9,-2.4 13,-2.4 C17,-2.4 20,-2.8 22.6,-3.4"/><path transform="translate(421.0,946.0)" d="M3.8,-10 C9,-11.5 16,-14 20.4,-17.4 C21,-20.6 16,-21.8 11.5,-20.9 C5,-19.6 2,-13 3,-8.6 C4.2,-3.6 9,-2.4 13,-2.4 C17,-2.4 20,-2.8 22.6,-3.4"/><path transform="translate(911.5,833.0)" d="M11.5,-42 C11.6,-30 11.4,-15 11.6,-3.4 M2.4,-40 C8,-41.6 18,-42.6 26,-41.5 C33,-40 34,-30.5 26.5,-26.5 C21,-24 15,-23.8 11.6,-23.8 M11.6,-24 C22,-24.6 35.6,-22 35.6,-13.5 C35.6,-5 25,-2.4 15,-2.4 C10,-2.4 6,-2.6 2.4,-3"/><path transform="translate(955.2,833.0)" d="M4,-19.8 C2.6,-13 1.6,-3.6 8,-2.8 C13.5,-2.2 17.2,-6.5 18,-12.5 M18,-20 C18,-14 18,-8 18.2,-1.6"/><path transform="translate(984.0,833.0)" d="M2.7,-19.6 C2.7,-14 2.9,-8 2.9,-2.4 M2.5,-27.6 L2.8,-26.4"/><path transform="translate(999.0,833.0)" d="M2.6,-42.6 C2.6,-30 2.9,-14 2.9,-2.4"/><path transform="translate(1012.8,833.0)" d="M26.4,-42.6 C26.6,-28 26.5,-12 26.8,-1.8 M26.4,-20.8 C18,-21.8 9,-17.8 4.6,-12.6 C1.4,-8.2 3,-3.8 8.5,-3.3 C14,-2.8 21,-3 26.6,-3.2"/><path transform="translate(1072.6,833.0)" d="M10,-2.4 C10,-14 10,-26 10,-36.5 C10,-42 15,-43.2 18,-42.6 C19.6,-42.2 20.6,-41 20.6,-39.2 M2.4,-19.6 C8,-20.6 12,-21.6 17,-22.6"/><path transform="translate(1097.9,833.0)" d="M2.7,-19.6 C2.7,-14 2.9,-8 2.9,-2.4 M2.5,-27.6 L2.8,-26.4"/><path transform="translate(1111.7,833.0)" d="M2.4,-20 C2.4,-14 2.6,-8 2.6,-2.4 M2.6,-13 C6,-19 12,-21 18,-20.6 C24,-20 26,-15 26.6,-2.4"/><path transform="translate(1149.7,833.0)" d="M3.8,-10 C9,-11.5 16,-14 20.4,-17.4 C21,-20.6 16,-21.8 11.5,-20.9 C5,-19.6 2,-13 3,-8.6 C4.2,-3.6 9,-2.4 13,-2.4 C17,-2.4 20,-2.8 22.6,-3.4"/><path transform="translate(892.7,896.7)" d="M2.4,-19.6 C2.4,-14 2.6,-8 2.6,-2.4 M2.6,-13 C5,-19 9,-20.6 13,-20 C17,-19.4 19.6,-15 19.8,-2.4 M19.8,-14 C22,-19 26,-20.6 30,-20 C35,-19.4 38.6,-14 39.3,-2.4"/><path transform="translate(942.2,896.7)" d="M3.73,-4.26 A10.8,7.2 -40 1 0 20.27,-18.14 A10.8,7.2 -40 1 0 3.73,-4.26 Z"/><path transform="translate(970.2,896.7)" d="M10,-23.6 C10,-15 10,-8 10.3,-2.4 M2.4,-16 C8,-17 13,-18 17.6,-18.6"/><path transform="translate(995.6,896.7)" d="M3.73,-4.26 A10.8,7.2 -40 1 0 20.27,-18.14 A10.8,7.2 -40 1 0 3.73,-4.26 Z"/><path transform="translate(1024.8,896.7)" d="M2.6,-20 C2.6,-14 2.8,-8 2.8,-2.4 M2.8,-12 C6,-18 11,-20.6 18.6,-19.6"/><path transform="translate(1072.2,896.7)" d="M17.2,-18.2 C13,-21.2 6,-21 3.6,-17.2 C2,-14 5,-12.4 9,-11.4 C15,-10 18.4,-8 18,-5 C17.2,-2 11,-1.6 2.4,-4.4"/><path transform="translate(1098.9,896.7)" d="M3,-42.6 C3,-30 3.2,-14 3.2,-2.4 M20.6,-21.6 C15,-19 9,-16.5 4,-14.5 M9,-16.8 C12.5,-12 16,-7 19.8,-2.4"/><path transform="translate(1126.7,896.7)" d="M2.7,-19.6 C2.7,-14 2.9,-8 2.9,-2.4 M2.5,-27.6 L2.8,-26.4"/><path transform="translate(1140.6,896.7)" d="M2.6,-42.6 C2.6,-30 2.9,-14 2.9,-2.4"/><path transform="translate(1158.3,896.7)" d="M2.6,-42.6 C2.6,-30 2.9,-14 2.9,-2.4"/><path transform="translate(1173.3,896.7)" d="M17.2,-18.2 C13,-21.2 6,-21 3.6,-17.2 C2,-14 5,-12.4 9,-11.4 C15,-10 18.4,-8 18,-5 C17.2,-2 11,-1.6 2.4,-4.4"/><path transform="translate(510.6,1079.2)" d="M2.4,-31.2 C2.4,-22 2.6,-12 2.6,-2.4"/><path transform="translate(519.4,1079.2)" d="M4.86,-21.96 A11.2,14.2 28 1 0 24.64,-11.44 A11.2,14.2 28 1 0 4.86,-21.96 Z"/><path transform="translate(554.4,1079.2)" d="M4.86,-21.96 A11.2,14.2 28 1 0 24.64,-11.44 A11.2,14.2 28 1 0 4.86,-21.96 Z"/><path transform="translate(590.0,1079.2)" d="M3.08,-26.11 A5.8,3.2 -18 1 0 14.12,-29.69 A5.8,3.2 -18 1 0 3.08,-26.11 Z M19.62,-5.03 A5.8,4.2 -22 1 0 30.38,-9.37 A5.8,4.2 -22 1 0 19.62,-5.03 Z M4.6,-2.6 C12,-12 20,-21.5 28,-30.6"/><path transform="translate(653.9,1079.2)" d="M10,-2.4 C10,-14 10,-26 10,-36.5 C10,-42 15,-43.2 18,-42.6 C19.6,-42.2 20.6,-41 20.6,-39.2 M2.4,-19.6 C8,-20.6 12,-21.6 17,-22.6"/><path transform="translate(674.4,1079.2)" d="M3.73,-4.26 A10.8,7.2 -40 1 0 20.27,-18.14 A10.8,7.2 -40 1 0 3.73,-4.26 Z"/><path transform="translate(703.9,1079.2)" d="M3.73,-4.26 A10.8,7.2 -40 1 0 20.27,-18.14 A10.8,7.2 -40 1 0 3.73,-4.26 Z"/><path transform="translate(732.2,1079.2)" d="M26.4,-42.6 C26.6,-28 26.5,-12 26.8,-1.8 M26.4,-20.8 C18,-21.8 9,-17.8 4.6,-12.6 C1.4,-8.2 3,-3.8 8.5,-3.3 C14,-2.8 21,-3 26.6,-3.2"/><path transform="translate(452.1,1141.5)" d="M20.8,-19 C16,-22 8,-21.4 4.2,-17 C1.2,-13 3,-6 9,-5.6 C14,-5.2 18,-8.4 20.8,-13 M20.8,-21 C20.8,-10 20.8,0 20.8,8 C20.6,14 16,16.6 10,15.8 C6,15.4 4,14 2.4,12.4"/><path transform="translate(483.1,1141.5)" d="M2.6,-20 C2.6,-14 2.8,-8 2.8,-2.4 M2.8,-12 C6,-18 11,-20.6 18.6,-19.6"/><path transform="translate(506.1,1141.5)" d="M20.5,-18.5 C16,-21.5 10,-20.8 5.5,-14.5 C1.6,-8.5 3,-3.2 8,-3.2 C13,-3.2 18,-8 20.8,-19.5 C22,-13 24,-5.5 26.6,-2.6"/><path transform="translate(540.2,1141.5)" d="M26.4,-42.6 C26.6,-28 26.5,-12 26.8,-1.8 M26.4,-20.8 C18,-21.8 9,-17.8 4.6,-12.6 C1.4,-8.2 3,-3.8 8.5,-3.3 C14,-2.8 21,-3 26.6,-3.2"/><path transform="translate(574.4,1141.5)" d="M3.8,-10 C9,-11.5 16,-14 20.4,-17.4 C21,-20.6 16,-21.8 11.5,-20.9 C5,-19.6 2,-13 3,-8.6 C4.2,-3.6 9,-2.4 13,-2.4 C17,-2.4 20,-2.8 22.6,-3.4"/><path transform="translate(631.6,1141.5)" d="M17.2,-18.2 C13,-21.2 6,-21 3.6,-17.2 C2,-14 5,-12.4 9,-11.4 C15,-10 18.4,-8 18,-5 C17.2,-2 11,-1.6 2.4,-4.4"/><path transform="translate(657.5,1141.5)" d="M2.7,-19.6 C2.7,-14 2.9,-8 2.9,-2.4 M2.5,-27.6 L2.8,-26.4"/><path transform="translate(671.7,1141.5)" d="M2.6,-42.6 C2.6,-30 2.9,-14 2.9,-2.4"/><path transform="translate(686.7,1141.5)" d="M2.7,-19.6 C2.7,-14 2.9,-8 2.9,-2.4 M2.5,-27.6 L2.8,-26.4"/><path transform="translate(698.3,1141.5)" d="M18.6,-18 C15,-20.6 9,-21.2 5,-17.2 C1.5,-13 2,-5.4 6,-3.4 C10,-1.8 15,-2.2 18.6,-3"/><path transform="translate(726.7,1141.5)" d="M3.73,-4.26 A10.8,7.2 -40 1 0 20.27,-18.14 A10.8,7.2 -40 1 0 3.73,-4.26 Z"/><path transform="translate(755.0,1141.5)" d="M2.4,-20 C2.4,-14 2.6,-8 2.6,-2.4 M2.6,-13 C6,-19 12,-21 18,-20.6 C24,-20 26,-15 26.6,-2.4"/><path transform="translate(793.3,1141.5)" d="M3.8,-10 C9,-11.5 16,-14 20.4,-17.4 C21,-20.6 16,-21.8 11.5,-20.9 C5,-19.6 2,-13 3,-8.6 C4.2,-3.6 9,-2.4 13,-2.4 C17,-2.4 20,-2.8 22.6,-3.4"/></g></svg></body></html>
